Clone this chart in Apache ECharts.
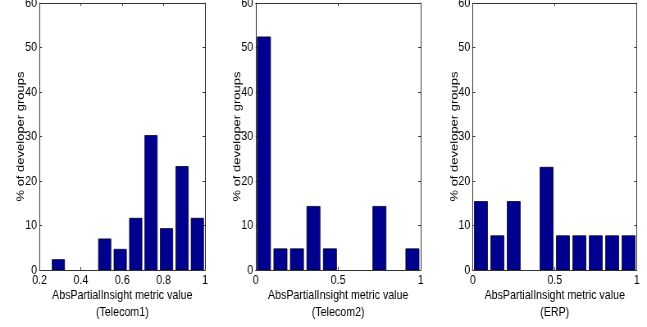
<!DOCTYPE html>
<html>
<head>
<meta charset="utf-8">
<script src="https://cdn.jsdelivr.net/npm/echarts@6/dist/echarts.min.js"></script>
<style>
  html, body { margin: 0; padding: 0; background: #fff; overflow: hidden; }
  #wrap { width: 647px; height: 327px; overflow: hidden; }
  /* the figure is drawn wide and squeezed horizontally to get tall, narrow lettering */
  #chart { width: 789px; height: 327px; transform: scaleX(0.82); transform-origin: 0 0; }
</style>
</head>
<body>
<div id="wrap"><div id="chart"></div></div>
<script>
// Histogram bin centres and percentage of developer groups per bin
const telecom1Centers = [0.291, 0.366, 0.441, 0.515, 0.590, 0.665, 0.739, 0.814, 0.889, 0.963];
const telecom1Values  = [2.33, 0, 0, 6.98, 4.65, 11.63, 30.23, 9.30, 23.26, 11.63];

const telecom2Centers = [0.05, 0.15, 0.25, 0.35, 0.45, 0.55, 0.65, 0.75, 0.85, 0.95];
const telecom2Values  = [52.38, 4.76, 4.76, 14.29, 4.76, 0, 0, 14.29, 0, 4.76];

const erpCenters = [0.05, 0.15, 0.25, 0.35, 0.45, 0.55, 0.65, 0.75, 0.85, 0.95];
const erpValues  = [15.38, 7.69, 15.38, 0, 23.08, 7.69, 7.69, 7.69, 7.69, 7.69];

const panelNames = ['(Telecom1)', '(Telecom2)', '(ERP)'];
const xMins = [0.2, 0, 0];
const xSteps = [0.2, 0.5, 0.5];
const yTicks = [0, 10, 20, 30, 40, 50, 60];
const xTitle = 'AbsPartialInsight metric value';
const yTitle = '% of developer groups';

const FONT = '"Liberation Sans", Arial, sans-serif';
const BAR_FILL = '#00008f';
const AXIS_COLOR = '#333333';

const panels = [
  { centers: telecom1Centers, values: telecom1Values },
  { centers: telecom2Centers, values: telecom2Values },
  { centers: erpCenters, values: erpValues }
];

// plot boxes in the (unsqueezed) drawing space
const gridBoxes = [
  { left: 48.2, width: 201.8 },
  { left: 311.8, width: 201.2 },
  { left: 576.5, width: 200 }
];

const grids = [], xAxes = [], yAxes = [], series = [];

function histRenderer(binWidth) {
  return function (params, api) {
    const x = api.value(0), y = api.value(1);
    if (!y) return null;
    const p0 = api.coord([x - binWidth * 0.4, y]);
    const p1 = api.coord([x + binWidth * 0.4, 0]);
    return {
      type: 'rect',
      shape: { x: p0[0], y: p0[1], width: p1[0] - p0[0], height: p1[1] - p0[1] },
      style: { fill: BAR_FILL, stroke: '#000020', lineWidth: 0.8 }
    };
  };
}

panels.forEach((p, i) => {
  grids.push({
    left: gridBoxes[i].left, width: gridBoxes[i].width, top: 3, height: 267,
    containLabel: false, outerBoundsMode: 'none'
  });

  const lineStyle = { color: AXIS_COLOR, width: 1 };
  // bottom axis with labels and title
  xAxes.push({
    type: 'value', gridIndex: i, position: 'bottom',
    min: xMins[i], max: 1, interval: xSteps[i],
    axisLine: { show: true, lineStyle },
    axisTick: { show: true, inside: true, length: 3, lineStyle },
    splitLine: { show: false },
    axisLabel: {
      color: '#000', fontFamily: FONT, fontSize: 13, margin: 4,
      formatter: v => String(Math.round(v * 10) / 10)
    },
    name: xTitle + '\n' + panelNames[i],
    nameLocation: 'middle', nameGap: 17, nameMoveOverlap: false,
    nameTextStyle: { color: '#000', fontFamily: FONT, fontSize: 13, lineHeight: 17 }
  });
  // top edge of the box
  xAxes.push({
    type: 'value', gridIndex: i, position: 'top',
    min: xMins[i], max: 1, interval: xSteps[i],
    axisLine: { show: true, onZero: false, lineStyle },
    axisTick: { show: true, inside: true, length: 3, lineStyle },
    axisLabel: { show: false }, splitLine: { show: false }
  });
  // left axis with labels and title
  yAxes.push({
    type: 'value', gridIndex: i, position: 'left',
    min: yTicks[0], max: yTicks[yTicks.length - 1], interval: yTicks[1] - yTicks[0],
    axisLine: { show: true, lineStyle },
    axisTick: { show: true, inside: true, length: 3, lineStyle },
    splitLine: { show: false },
    axisLabel: { color: '#000', fontFamily: FONT, fontSize: 13, margin: 3 },
    name: yTitle, nameLocation: 'middle', nameGap: 16, nameRotate: 90, nameMoveOverlap: false,
    nameTextStyle: { color: '#000', fontFamily: FONT, fontSize: 13 }
  });
  // right edge of the box
  yAxes.push({
    type: 'value', gridIndex: i, position: 'right',
    min: yTicks[0], max: yTicks[yTicks.length - 1], interval: yTicks[1] - yTicks[0],
    axisLine: { show: true, onZero: false, lineStyle },
    axisTick: { show: true, inside: true, length: 3, lineStyle },
    axisLabel: { show: false }, splitLine: { show: false }
  });

  const binWidth = p.centers[1] - p.centers[0];
  series.push({
    type: 'custom',
    xAxisIndex: i * 2, yAxisIndex: i * 2,
    renderItem: histRenderer(binWidth),
    encode: { x: 0, y: 1 },
    clip: true,
    data: p.centers.map((c, k) => [c, p.values[k]])
  });
});

const chart = echarts.init(document.getElementById('chart'), null, { renderer: 'canvas' });
chart.setOption({
  animation: false,
  backgroundColor: '#fff',
  grid: grids,
  xAxis: xAxes,
  yAxis: yAxes,
  series
});
</script>
</body>
</html>
